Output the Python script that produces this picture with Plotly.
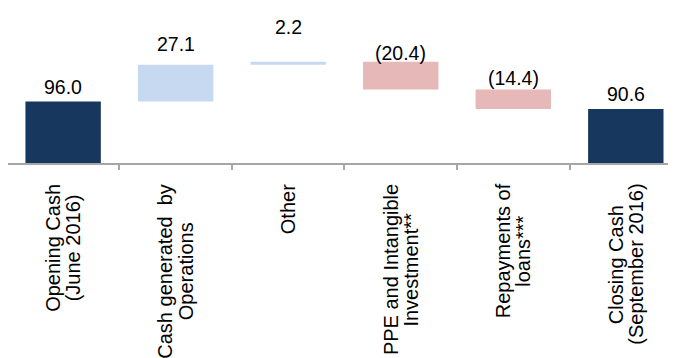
import plotly.graph_objects as go

# ---- data ----
categories = [
    "Opening Cash<br>(June 2016)",
    "Cash generated  by<br>Operations",
    "Other",
    "PPE and Intangible<br>Investment**",
    "Repayments of<br>loans***",
    "Closing Cash<br>(September 2016)",
]
values = [96.0, 27.1, 2.2, -20.4, -14.4, 90.6]
measures = ["absolute", "relative", "relative", "relative", "relative", "total"]
value_labels = ["96.0", "27.1", "2.2", "(20.4)", "(14.4)", "90.6"]

# ---- styling ----
NAVY = "#17375E"
LIGHT_BLUE = "#C6D9F1"
PINK = "#E6B9B8"
FONT = "Liberation Sans, Arial, sans-serif"
VALUE_SIZE = 19.5
CAT_SIZE = 20
label_shift_px = [4, 10, 24, -2.5, 0, 3.5]   # extra gap above each bar (as in the original)

# Arial / Liberation Sans advance widths (per 1000 em) for label centring
AW = {" ": 278, "(": 333, ")": 333, "*": 389, ".": 278,
      "A": 667, "C": 722, "E": 667, "I": 278, "J": 500, "O": 778, "P": 667,
      "R": 722, "S": 667,
      "a": 556, "b": 556, "c": 500, "d": 556, "e": 556, "f": 278, "g": 556,
      "h": 556, "i": 222, "j": 222, "l": 222, "m": 833, "n": 556, "o": 556,
      "p": 556, "r": 333, "s": 500, "t": 278, "u": 556, "v": 500, "y": 500}


def text_width(s, size):
    return sum(AW.get(ch, 556) for ch in s) * size / 1000.0


bases, heights, colors = [], [], []
running = 0.0
for v, m in zip(values, measures):
    if m in ("absolute", "total"):
        bases.append(0.0)
        heights.append(v)
        colors.append(NAVY)
        running = v
    else:
        if v >= 0:
            bases.append(running)
            heights.append(v)
            colors.append(LIGHT_BLUE)
        else:
            bases.append(running + v)
            heights.append(-v)
            colors.append(PINK)
        running += v
tops = [b + h for b, h in zip(bases, heights)]

fig = go.Figure(
    go.Bar(
        x=categories,
        y=heights,
        base=bases,
        marker=dict(color=colors, line=dict(width=0)),
        width=0.67,
        hoverinfo="skip",
    )
)

annotations = []
# value labels above each bar
for c, t, lab, sh in zip(categories, tops, value_labels, label_shift_px):
    annotations.append(dict(
        x=c, xref="x", y=t, yref="y", yanchor="bottom", xanchor="center",
        yshift=sh, text=lab, showarrow=False, borderpad=0, borderwidth=0,
        font=dict(family=FONT, size=VALUE_SIZE, color="#000000"),
    ))

# rotated category labels, one annotation per line so the line pitch matches
LINE_PITCH = 20.5
TOP_GAP = 21
for c in categories:
    lines = c.split("<br>")
    maxw = max(text_width(l, CAT_SIZE) for l in lines)
    n = len(lines)
    for i, line in enumerate(lines):
        annotations.append(dict(
            x=c, xref="x", y=0, yref="paper",
            xanchor="center", yanchor="middle", textangle=-90,
            xshift=(i - (n - 1) / 2) * LINE_PITCH,
            yshift=-(TOP_GAP + maxw / 2),
            text=line, showarrow=False, borderpad=0, borderwidth=0,
            font=dict(family=FONT, size=CAT_SIZE, color="#000000"),
        ))

fig.update_layout(
    width=668, height=350,
    margin=dict(l=0, r=0, t=0, b=195, pad=0),
    paper_bgcolor="white", plot_bgcolor="white",
    showlegend=False,
    annotations=annotations,
    xaxis=dict(
        type="category",
        range=[-0.49, 5.446],
        showline=True, linecolor="#A6A6A6", linewidth=1.5,
        ticks="outside", tickson="boundaries", ticklen=5,
        tickcolor="#A6A6A6", tickwidth=1.5,
        showticklabels=False, showgrid=False, zeroline=False,
    ),
    yaxis=dict(range=[50.8, 164.8], visible=False, showgrid=False, zeroline=False),
)

fig.write_html("out.html")
